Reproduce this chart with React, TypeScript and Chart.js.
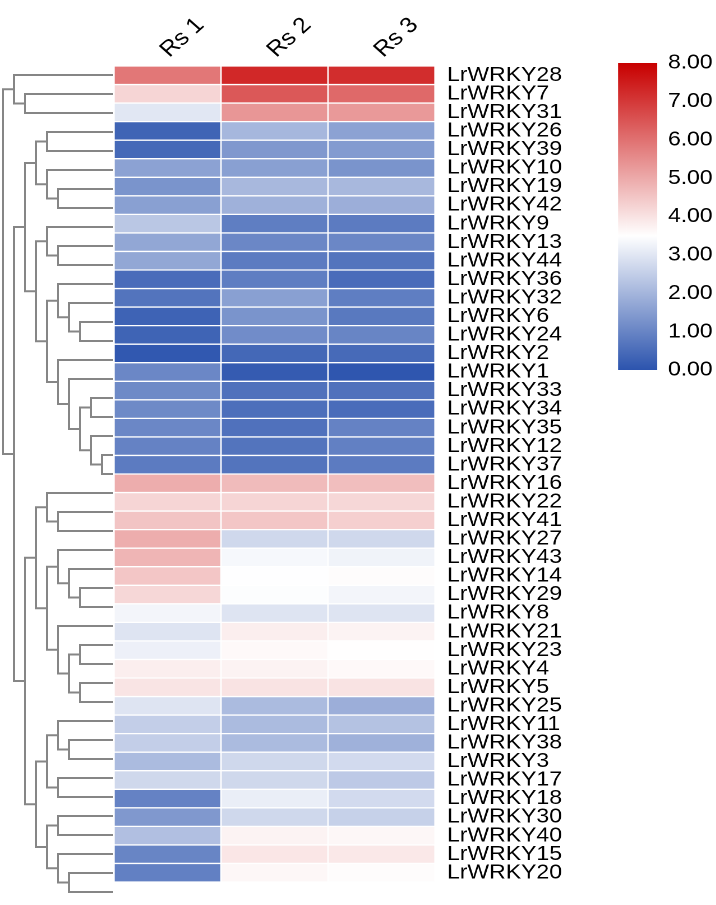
import React, { useEffect, useRef } from 'react';
import { Chart, registerables } from 'chart.js';

Chart.register(...registerables);

// ---------------- data ----------------
const rowLabels = [
  'LrWRKY28', 'LrWRKY7', 'LrWRKY31', 'LrWRKY26', 'LrWRKY39', 'LrWRKY10', 'LrWRKY19', 'LrWRKY42',
  'LrWRKY9', 'LrWRKY13', 'LrWRKY44', 'LrWRKY36', 'LrWRKY32', 'LrWRKY6', 'LrWRKY24', 'LrWRKY2',
  'LrWRKY1', 'LrWRKY33', 'LrWRKY34', 'LrWRKY35', 'LrWRKY12', 'LrWRKY37', 'LrWRKY16', 'LrWRKY22',
  'LrWRKY41', 'LrWRKY27', 'LrWRKY43', 'LrWRKY14', 'LrWRKY29', 'LrWRKY8', 'LrWRKY21', 'LrWRKY23',
  'LrWRKY4', 'LrWRKY5', 'LrWRKY25', 'LrWRKY11', 'LrWRKY38', 'LrWRKY3', 'LrWRKY17', 'LrWRKY18',
  'LrWRKY30', 'LrWRKY40', 'LrWRKY15', 'LrWRKY20',
];

const colLabels = ['Rs 1', 'Rs 2', 'Rs 3'];

const rs1Values = [
  5.9, 4.25, 3.0, 0.32, 0.42, 1.6, 1.3, 1.55,
  2.35, 1.7, 1.7, 0.5, 0.65, 0.3, 0.32, 0.08,
  1.05, 1.1, 1.1, 1.05, 0.95, 0.8, 4.95, 4.25,
  4.55, 4.95, 4.8, 4.5, 4.2, 3.3, 2.95, 3.2,
  3.8, 3.98, 2.95, 2.5, 2.5, 2.1, 2.7, 0.95,
  1.4, 2.2, 1.0, 0.9,
];

const rs2Values = [
  7.3, 6.45, 5.35, 2.03, 1.4, 1.55, 2.05, 1.9,
  0.85, 1.05, 0.8, 0.85, 1.55, 1.3, 1.15, 0.4,
  0.15, 0.6, 0.55, 0.6, 0.65, 0.65, 4.7, 4.25,
  4.5, 2.7, 3.35, 3.48, 3.45, 2.95, 3.8, 3.6,
  3.72, 4.0, 2.1, 2.1, 2.1, 2.7, 2.7, 3.15,
  2.7, 3.72, 3.95, 3.65,
];

const rs3Values = [
  7.2, 6.15, 5.3, 1.6, 1.45, 1.3, 2.05, 1.85,
  0.8, 1.05, 0.65, 0.5, 0.85, 0.75, 1.0, 0.45,
  0.05, 0.6, 0.5, 0.95, 0.9, 0.8, 4.65, 4.2,
  4.35, 2.7, 3.25, 3.55, 3.3, 2.95, 3.72, 3.52,
  3.6, 4.0, 1.85, 2.25, 1.9, 2.75, 2.4, 2.75,
  2.55, 3.65, 3.9, 3.55,
];

const legendTickValues = [0, 1, 2, 3, 4, 5, 6, 7, 8];

// row dendrogram (topology only; drawn as a cladogram by node depth)
const rowTreeNewick =
  '((LrWRKY28,(LrWRKY7,LrWRKY31)),' +
  '((((LrWRKY26,LrWRKY39),(LrWRKY10,(LrWRKY19,LrWRKY42))),' +
  '((LrWRKY9,(LrWRKY13,LrWRKY44)),((LrWRKY36,(LrWRKY32,(LrWRKY6,LrWRKY24))),' +
  '(LrWRKY2,(LrWRKY1,((LrWRKY33,LrWRKY34),(LrWRKY35,(LrWRKY12,LrWRKY37)))))))),' +
  '(((LrWRKY16,(LrWRKY22,LrWRKY41)),((LrWRKY27,(LrWRKY43,(LrWRKY14,LrWRKY29))),' +
  '(LrWRKY8,((LrWRKY21,LrWRKY23),(LrWRKY4,LrWRKY5))))),' +
  '(((LrWRKY25,(LrWRKY11,LrWRKY38)),(LrWRKY3,LrWRKY17)),' +
  '((LrWRKY18,LrWRKY30),(LrWRKY40,(LrWRKY15,LrWRKY20)))))))';

const scaleMin = 0;
const scaleMid = 3.5;
const scaleMax = 8;
const lowColor = [44, 84, 174];
const midColor = [255, 255, 255];
const highColor = [200, 0, 0];

// ---------------- helpers ----------------
const FONT_FAMILY = "'Liberation Sans', Arial, Helvetica, sans-serif";
const LINE_COLOR = '#868686';

function mix(a: number[], b: number[], t: number) {
  const c = a.map((v, i) => Math.round(v + (b[i] - v) * t));
  return `rgb(${c[0]},${c[1]},${c[2]})`;
}

function colorFor(v: number) {
  if (v <= scaleMid) {
    const t = Math.max(0, Math.min(1, (scaleMid - v) / (scaleMid - scaleMin)));
    return mix(midColor, lowColor, t);
  }
  const t = Math.max(0, Math.min(1, (v - scaleMid) / (scaleMax - scaleMid)));
  return mix(midColor, highColor, t);
}

type TNode = { name?: string; children?: TNode[]; x?: number; y?: number };

function parseNewick(s: string): TNode {
  let i = 0;
  function node(): TNode {
    if (s[i] === '(') {
      i++;
      const children = [node()];
      while (s[i] === ',') {
        i++;
        children.push(node());
      }
      i++;
      return { children };
    }
    let name = '';
    while (i < s.length && !',()'.includes(s[i])) name += s[i++];
    return { name: name.trim() };
  }
  return node();
}

function maxDepth(n: TNode, d: number): number {
  if (!n.children) return d;
  return Math.max(...n.children.map((c) => maxDepth(c, d + 1)));
}

function layoutTree(n: TNode, depth: number, leafLevel: number, out: TNode[]) {
  if (!n.children) {
    n.x = leafLevel;
    n.y = rowLabels.indexOf(n.name as string);
    return;
  }
  n.x = depth;
  n.children.forEach((c) => layoutTree(c, depth + 1, leafLevel, out));
  const ys = n.children.map((c) => c.y as number);
  n.y = (Math.min(...ys) + Math.max(...ys)) / 2;
  out.push(n);
}

// ---------------- layout constants ----------------
// The reference is slightly stretched horizontally; the heatmap and legend
// canvases are drawn at a narrower logical width and displayed wider.
const W = 716;
const H = 905;
const HEAT_TOP = 66;
const HEAT_BOTTOM_PAD = 3;
const DENDRO_W = 114;

const HEAT_CSS_W = 600;
const HEAT_LOGICAL_W = 535;
const KH = HEAT_CSS_W / HEAT_LOGICAL_W;
const HEAT_LEFT_PX = 114;
const HEAT_RIGHT_PX = 435;

const LEG_LEFT = 600;
const LEG_CSS_W = 116;
const LEG_LOGICAL_W = 104;
const KL = LEG_CSS_W / LEG_LOGICAL_W;
const LEG_BAR_L = 618 - LEG_LEFT;
const LEG_BAR_R = 657 - LEG_LEFT;
const LEG_TOP = 63;
const LEG_BOTTOM = 370;

export default function App() {
  const dendroRef = useRef<HTMLCanvasElement>(null);
  const heatRef = useRef<HTMLCanvasElement>(null);
  const legRef = useRef<HTMLCanvasElement>(null);

  useEffect(() => {
    const charts: Chart[] = [];

    // ---------- dendrogram ----------
    const root = parseNewick(rowTreeNewick);
    const leafLevel = maxDepth(root, 0);
    const internal: TNode[] = [];
    layoutTree(root, 0, leafLevel, internal);
    const dendroSets = internal.map((n) => {
      const kids = n.children as TNode[];
      const first = kids[0];
      const last = kids[kids.length - 1];
      return {
        data: [
          { x: first.x as number, y: first.y as number },
          { x: n.x as number, y: first.y as number },
          { x: n.x as number, y: last.y as number },
          { x: last.x as number, y: last.y as number },
        ],
        showLine: true,
        borderColor: LINE_COLOR,
        borderWidth: 2,
        pointRadius: 0,
        borderJoinStyle: 'miter' as const,
        borderCapStyle: 'butt' as const,
        clip: false as const,
        tension: 0,
      };
    });

    if (dendroRef.current) {
      charts.push(
        new Chart(dendroRef.current, {
          type: 'scatter',
          data: { datasets: dendroSets as any },
          options: {
            animation: false,
            responsive: false,
            devicePixelRatio: 1,
            events: [],
            layout: { padding: { left: 3, right: DENDRO_W - 113, top: HEAT_TOP - 0.5, bottom: HEAT_BOTTOM_PAD + 0.5 } },
            plugins: { legend: { display: false }, tooltip: { enabled: false } },
            scales: {
              x: { type: 'linear', min: 0, max: leafLevel, display: false },
              y: { type: 'linear', min: -0.5, max: rowLabels.length - 0.5, reverse: true, display: false },
            },
          },
        })
      );
    }

    // ---------- heatmap ----------
    const columns = [rs1Values, rs2Values, rs3Values];
    if (heatRef.current) {
      charts.push(
        new Chart(heatRef.current, {
          type: 'bar',
          data: {
            labels: rowLabels,
            datasets: columns.map((vals, c) => ({
              label: colLabels[c],
              data: vals.map(() => [c, c + 1] as [number, number]),
              backgroundColor: vals.map(colorFor),
              borderColor: '#ffffff',
              borderWidth: 1,
              borderSkipped: false as const,
              grouped: false,
              barPercentage: 1,
              categoryPercentage: 1,
              xAxisID: 'x',
              yAxisID: 'y',
            })),
          },
          options: {
            indexAxis: 'y',
            animation: false,
            responsive: false,
            devicePixelRatio: 2,
            events: [],
            layout: { padding: { left: HEAT_LEFT_PX / KH, right: 0, top: 0, bottom: HEAT_BOTTOM_PAD } },
            plugins: { legend: { display: false }, tooltip: { enabled: false } },
            scales: {
              x: { type: 'linear', min: 0, max: colLabels.length, display: false },
              xTop: {
                type: 'category',
                labels: colLabels,
                position: 'top',
                offset: true,
                grid: { display: false, drawTicks: false },
                border: { display: false },
                ticks: {
                  minRotation: 45,
                  maxRotation: 45,
                  autoSkip: false,
                  font: { family: FONT_FAMILY, size: 22 },
                  color: '#000',
                  padding: 3,
                  labelOffset: 16,
                },
                afterFit: (s: any) => {
                  s.height = HEAT_TOP;
                },
              } as any,
              y: {
                type: 'category',
                position: 'right',
                offset: true,
                grid: { display: false, drawTicks: false },
                border: { display: false },
                ticks: { autoSkip: false, font: { family: FONT_FAMILY, size: 20.5 }, color: '#000', padding: 12 / KH },
                afterFit: (s: any) => {
                  s.width = HEAT_LOGICAL_W - HEAT_RIGHT_PX / KH;
                },
              } as any,
            },
          },
        })
      );
    }

    // ---------- colour legend ----------
    if (legRef.current) {
      charts.push(
        new Chart(legRef.current, {
          type: 'bar',
          data: {
            labels: ['scale'],
            datasets: [
              {
                data: [[scaleMin, scaleMax] as [number, number]],
                backgroundColor: (ctx: any) => {
                  const { chart } = ctx;
                  const area = chart.chartArea;
                  if (!area) return 'rgba(0,0,0,0)';
                  const ys = chart.scales.y;
                  const g = chart.ctx.createLinearGradient(0, ys.getPixelForValue(scaleMin), 0, ys.getPixelForValue(scaleMax));
                  g.addColorStop(0, colorFor(scaleMin));
                  g.addColorStop((scaleMid - scaleMin) / (scaleMax - scaleMin), colorFor(scaleMid));
                  g.addColorStop(1, colorFor(scaleMax));
                  return g;
                },
                borderWidth: 0,
                barPercentage: 1,
                categoryPercentage: 1,
              },
            ],
          },
          options: {
            animation: false,
            responsive: false,
            devicePixelRatio: 2,
            events: [],
            layout: { padding: { left: LEG_BAR_L / KL, right: 0, top: LEG_TOP, bottom: H - LEG_BOTTOM } },
            plugins: { legend: { display: false }, tooltip: { enabled: false } },
            scales: {
              x: { display: false },
              y: {
                type: 'linear',
                position: 'right',
                min: scaleMin,
                max: scaleMax,
                grid: { display: false, drawTicks: false },
                border: { display: false },
                afterBuildTicks: (s: any) => {
                  s.ticks = legendTickValues.map((v) => ({ value: v }));
                },
                ticks: {
                  font: { family: FONT_FAMILY, size: 20.5 },
                  color: '#000',
                  padding: 11 / KL,
                  callback: (v: any) => Number(v).toFixed(2),
                },
                afterFit: (s: any) => {
                  s.width = LEG_LOGICAL_W - LEG_BAR_R / KL;
                },
              } as any,
            },
          },
        })
      );
    }

    return () => {
      charts.forEach((c) => c.destroy());
    };
  }, []);

  return (
    <div style={{ position: 'absolute', left: 0, top: 0, width: W, height: H, background: '#ffffff', overflow: 'hidden' }}>
      <canvas ref={dendroRef} width={DENDRO_W} height={H} style={{ position: 'absolute', left: 0, top: 0, width: DENDRO_W, height: H }} />
      <canvas ref={heatRef} width={HEAT_LOGICAL_W} height={H} style={{ position: 'absolute', left: 0, top: 0, width: HEAT_CSS_W, height: H }} />
      <canvas ref={legRef} width={LEG_LOGICAL_W} height={H} style={{ position: 'absolute', left: LEG_LEFT, top: 0, width: LEG_CSS_W, height: H }} />
    </div>
  );
}
